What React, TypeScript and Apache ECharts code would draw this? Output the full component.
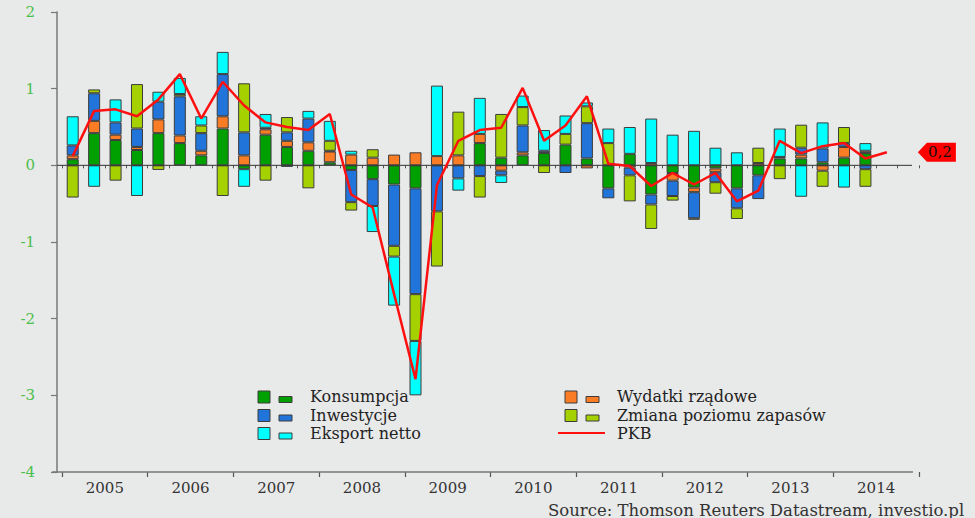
import React, { useEffect, useRef } from "react";
import * as echarts from "echarts";

const years = ["2005", "2006", "2007", "2008", "2009", "2010", "2011", "2012", "2013", "2014"];
const quarters = years.flatMap((y) => ["Q1", "Q2", "Q3", "Q4"].map((q) => `${y} ${q}`));

const konsumpcja = [0.08, 0.42, 0.33, 0.2, 0.42, 0.29, 0.13, 0.48, -0.05, 0.4, 0.24, 0.19, 0.04, -0.06, -0.18, -0.25, -0.3, 0, 0, 0.29, 0.1, 0.13, 0.16, 0.27, 0.09, -0.3, 0.15, -0.38, -0.1, -0.29, -0.04, -0.3, -0.13, 0.09, 0.09, 0.04, 0.1, 0.16];
const wydatki = [0.05, 0.16, 0.07, 0.04, 0.18, 0.1, 0.06, 0.16, 0.13, 0.07, 0.08, 0.11, 0.14, 0.14, 0.1, 0.14, 0.17, 0.12, 0.13, 0.12, -0.07, 0.04, 0, 0, -0.04, 0, -0.03, 0.03, -0.1, -0.06, -0.05, 0, 0.03, 0, 0.05, -0.07, 0.14, 0.03];
const inwestycje = [0.13, 0.36, 0.16, 0.24, 0.23, 0.51, 0.23, 0.55, 0.3, 0.02, 0.11, 0.31, 0.01, -0.42, -0.35, -0.8, -1.38, -0.6, -0.17, -0.14, -0.06, 0.35, 0.03, -0.1, 0.46, -0.13, -0.1, -0.13, -0.2, -0.34, -0.13, -0.26, -0.31, 0.02, 0.09, 0.18, 0.05, -0.05];
const zapasy = [-0.42, 0.05, -0.2, 0.58, -0.06, 0.03, 0.1, -0.4, 0.64, -0.2, 0.2, -0.3, 0.13, -0.11, 0.11, -0.14, -0.61, -0.72, 0.57, -0.28, 0.57, 0.24, -0.1, 0.14, 0.22, 0.29, -0.34, -0.32, -0.06, -0.02, -0.15, -0.14, 0.2, -0.18, 0.3, -0.21, 0.21, -0.23];
const eksport = [0.38, -0.28, 0.3, -0.4, 0.13, 0.21, 0.12, 0.29, -0.23, 0.18, -0.02, 0.1, 0.26, 0.05, -0.34, -0.64, -0.71, 0.92, -0.16, 0.47, -0.1, 0.15, 0.27, 0.24, 0.05, 0.19, 0.35, 0.58, 0.4, 0.45, 0.23, 0.17, 0, 0.37, -0.41, 0.34, -0.29, 0.1];
const pkb = [0.12, 0.71, 0.73, 0.64, 0.86, 1.19, 0.61, 1.09, 0.78, 0.56, 0.5, 0.46, 0.67, -0.38, -0.55, -1.68, -2.79, -0.26, 0.32, 0.46, 0.49, 1.01, 0.32, 0.52, 0.9, 0.02, -0.01, -0.27, -0.1, -0.25, -0.1, -0.47, -0.33, 0.32, 0.16, 0.25, 0.29, 0.09, 0.17];

const FONT = "DejaVu Serif";
const BG = "#e8e9e9";

const components = [
  { name: "Konsumpcja", data: konsumpcja, color: "#00a000" },
  { name: "Wydatki rządowe", data: wydatki, color: "#fa7d26" },
  { name: "Inwestycje", data: inwestycje, color: "#2174d9" },
  { name: "Zmiana poziomu zapasów", data: zapasy, color: "#a6d100" },
  { name: "Eksport netto", data: eksport, color: "#00ffff" },
];

const legendLeft = ["Konsumpcja", "Inwestycje", "Eksport netto"];
const legendRight = ["Wydatki rządowe", "Zmiana poziomu zapasów"];

export default function App() {
  const ref = useRef<HTMLDivElement>(null);
  useEffect(() => {
    document.body.style.margin = "0";
    document.body.style.background = BG;
    if (!ref.current) return;
    const chart = echarts.init(ref.current, null, { renderer: "svg" });
    const last = pkb[pkb.length - 1];
    const series: any[] = components.map((c) => ({
      type: "bar",
      name: c.name,
      stack: "gdp",
      barWidth: 12,
      data: c.data.map((v) => (v === 0 ? null : v)),
      itemStyle: { color: c.color, borderColor: "#3c3c3c", borderWidth: 1 },
    }));
    series.push({
      type: "line",
      name: "PKB",
      data: pkb,
      symbol: "none",
      z: 5,
      lineStyle: { color: "#ff1010", width: 2.5 },
      markPoint: {
        symbol: "path://M0,9.5 L9,0 L38,0 L38,19 L9,19 Z",
        symbolSize: [38, 19],
        symbolOffset: [50, 0],
        itemStyle: { color: "#ff0000" },
        label: {
          show: true,
          formatter: () => last.toFixed(1).replace(".", ","),
          color: "#111",
          fontFamily: FONT,
          fontSize: 15,
          offset: [3, 0],
        },
        data: [{ coord: [quarters[pkb.length - 1], last] }],
      },
    });
    chart.setOption({
      animation: false,
      backgroundColor: BG,
      grid: { left: 62, right: 56, top: 12, bottom: 46 },
      xAxis: [
        {
          type: "category",
          data: quarters,
          boundaryGap: true,
          axisLine: { show: false },
          axisTick: { show: true, interval: 0, length: 3, lineStyle: { color: "#555" } },
          axisLabel: { show: false },
        },
        {
          type: "category",
          data: years,
          position: "bottom",
          boundaryGap: true,
          axisLine: { show: false },
          axisTick: { show: true, interval: 0, length: 5, lineStyle: { color: "#555", width: 1.2 } },
          axisLabel: { show: true, interval: 0, margin: 8, color: "#333", fontFamily: FONT, fontSize: 15 },
        },
      ],
      yAxis: {
        type: "value",
        min: -4,
        max: 2,
        interval: 1,
        offset: 5,
        axisLine: { show: true, lineStyle: { color: "#777", width: 1.5 } },
        axisTick: { show: true, length: 6, lineStyle: { color: "#777", width: 1.2 } },
        splitLine: { show: false },
        axisLabel: { color: "#4cbf4c", fontFamily: FONT, fontSize: 15, margin: 22 },
      },
      series,
    });

    const y0 = chart.convertToPixel({ yAxisIndex: 0 }, 0) as number;
    const yB = chart.convertToPixel({ yAxisIndex: 0 }, -4) as number;
    const graphics: any[] = [
      { type: "line", shape: { x1: 57, y1: y0, x2: 912, y2: y0 }, style: { stroke: "#333", lineWidth: 1 }, z: 3 },
      { type: "line", shape: { x1: 52, y1: yB, x2: 913, y2: yB }, style: { stroke: "#777", lineWidth: 1.5 }, z: 3 },
    ];
    const rowY = [396.5, 415, 433];
    const colorOf = (n: string) => components.find((c) => c.name === n)!.color;
    const textStyle = (text: string) => ({ text, fill: "#222", font: `16px '${FONT}'`, lineHeight: 16, textVerticalAlign: "middle" });
    const addItem = (name: string, bx: number, sx: number, tx: number, y: number) => {
      graphics.push({ type: "rect", shape: { x: bx, y: y - 5.5, width: 12, height: 12 }, style: { fill: colorOf(name), stroke: "#3c3c3c", lineWidth: 1 }, z: 10 });
      graphics.push({ type: "rect", shape: { x: sx, y: y, width: 13, height: 6 }, style: { fill: colorOf(name), stroke: "#3c3c3c", lineWidth: 1 }, z: 10 });
      graphics.push({ type: "text", x: tx, y: y, style: textStyle(name), z: 10 });
    };
    legendLeft.forEach((n, i) => addItem(n, 258, 279, 310, rowY[i]));
    legendRight.forEach((n, i) => addItem(n, 565, 586, 617, rowY[i]));
    graphics.push({ type: "line", shape: { x1: 558, y1: rowY[2], x2: 605, y2: rowY[2] }, style: { stroke: "#ff1010", lineWidth: 2 }, z: 10 });
    graphics.push({ type: "text", x: 617, y: rowY[2], style: textStyle("PKB"), z: 10 });
    graphics.push({ type: "text", x: 548, y: 510, style: { text: "Source: Thomson Reuters Datastream, investio.pl", fill: "#333", font: `16.5px '${FONT}'`, textVerticalAlign: "middle" }, z: 10 });
    chart.setOption({ graphic: graphics });

    return () => chart.dispose();
  }, []);
  return <div ref={ref} style={{ width: 975, height: 518 }} />;
}
